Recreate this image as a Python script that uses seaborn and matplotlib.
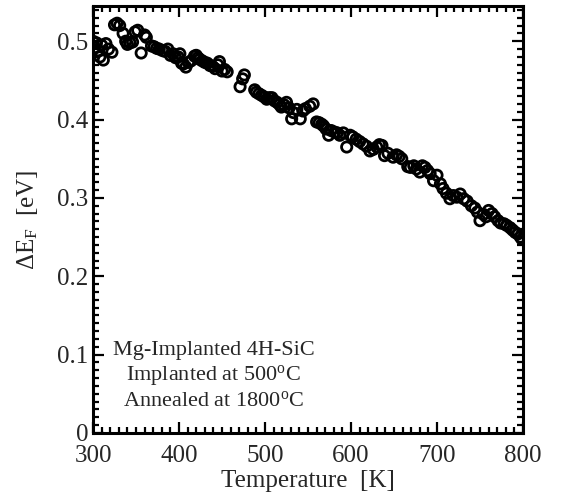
import numpy as np
import matplotlib
matplotlib.use("Agg")
import matplotlib.pyplot as plt
import seaborn as sns
import pandas as pd
from matplotlib.ticker import MultipleLocator

temperature = [300, 302, 304, 306, 308, 310, 312, 315, 318, 322,
               325, 328, 331, 335, 338, 340, 343, 346, 349, 352,
               356, 360, 362, 368, 371, 374, 377, 381, 384, 387,
               390, 393, 396, 399, 401, 403, 405, 408, 411, 414,
               418, 420, 422, 424, 427, 430, 433, 436, 439, 442,
               445, 447, 450, 453, 456, 471, 474, 476, 488, 490,
               493, 496, 499, 502, 505, 508, 511, 514, 517, 519,
               522, 525, 528, 531, 533, 537, 541, 544, 547, 552,
               556, 560, 563, 566, 568, 571, 574, 577, 581, 584,
               587, 591, 595, 599, 602, 606, 610, 614, 618, 622,
               626, 630, 633, 636, 639, 643, 649, 653, 656, 659,
               666, 669, 673, 676, 680, 683, 686, 689, 692, 696,
               700, 704, 707, 711, 715, 719, 723, 727, 731, 735,
               740, 744, 747, 750, 754, 757, 760, 764, 767, 771,
               774, 778, 781, 785, 788, 791, 794, 797, 799]
delta_ef = [0.500, 0.492, 0.498, 0.488, 0.480, 0.495, 0.476, 0.497, 0.490, 0.486,
            0.521, 0.523, 0.520, 0.510, 0.500, 0.496, 0.498, 0.499, 0.512, 0.514,
            0.485, 0.508, 0.505, 0.494, 0.493, 0.491, 0.490, 0.488, 0.487, 0.490,
            0.482, 0.484, 0.479, 0.480, 0.484, 0.472, 0.471, 0.467, 0.473, 0.475,
            0.481, 0.482, 0.479, 0.477, 0.475, 0.473, 0.472, 0.469, 0.468, 0.465,
            0.470, 0.474, 0.462, 0.464, 0.461, 0.442, 0.452, 0.457, 0.438, 0.435,
            0.433, 0.431, 0.429, 0.426, 0.428, 0.428, 0.424, 0.422, 0.419, 0.416,
            0.419, 0.422, 0.415, 0.401, 0.409, 0.413, 0.401, 0.411, 0.414, 0.417,
            0.420, 0.397, 0.396, 0.394, 0.392, 0.388, 0.380, 0.386, 0.384, 0.383,
            0.380, 0.383, 0.365, 0.380, 0.378, 0.375, 0.372, 0.369, 0.366, 0.360,
            0.362, 0.365, 0.368, 0.367, 0.354, 0.357, 0.352, 0.355, 0.353, 0.350,
            0.340, 0.339, 0.341, 0.337, 0.333, 0.341, 0.339, 0.335, 0.331, 0.322,
            0.329, 0.318, 0.312, 0.306, 0.299, 0.303, 0.301, 0.305, 0.299, 0.296,
            0.290, 0.287, 0.282, 0.271, 0.279, 0.276, 0.284, 0.280, 0.276, 0.271,
            0.268, 0.267, 0.265, 0.262, 0.259, 0.256, 0.254, 0.250, 0.247]
x_ticks = [300, 400, 500, 600, 700, 800]
y_ticks = [0, 0.1, 0.2, 0.3, 0.4, 0.5]
y_tick_labels = ["0", "0.1", "0.2", "0.3", "0.4", "0.5"]
annotation = ["Mg-Implanted 4H-SiC",
              r"Implanted at 500$^\mathrm{o}$C",
              r"Annealed at 1800$^\mathrm{o}$C"]

sns.set_style("ticks")
plt.rcParams["font.family"] = ["Liberation Serif", "DejaVu Serif"]
plt.rcParams["mathtext.fontset"] = "custom"
plt.rcParams["mathtext.rm"] = "Liberation Serif"
plt.rcParams["mathtext.it"] = "Liberation Serif:italic"

df = pd.DataFrame({"T": temperature, "dE": delta_ef})

fig = plt.figure(figsize=(5.62, 4.99), dpi=100)
ax = fig.add_axes([0.1655, 0.1323, 0.7651, 0.8557])
sns.scatterplot(data=df, x="T", y="dE", ax=ax, marker="o", s=55,
                facecolors="none", edgecolor="black", linewidth=2.0, legend=False)

ax.set_xlim(300, 800)
ax.set_ylim(0, 0.545)
ax.set_xticks(x_ticks)
ax.set_xticklabels([str(t) for t in x_ticks])
ax.set_yticks(y_ticks)
ax.set_yticklabels(y_tick_labels)
ax.xaxis.set_minor_locator(MultipleLocator(10))
ax.yaxis.set_minor_locator(MultipleLocator(0.01))
ax.tick_params(which="both", direction="in", top=True, right=True,
               labelsize=18, width=1.6, color="black")
ax.tick_params(which="major", length=8)
ax.tick_params(which="minor", length=4.5)
ax.tick_params(axis="x", pad=9)
for sp in ax.spines.values():
    sp.set_linewidth(2.2)
    sp.set_color("black")

ax.set_xlabel("Temperature  [K]", fontsize=18, labelpad=2)
ax.set_ylabel(r"ΔE$_\mathrm{F}$  [eV]", fontsize=18, labelpad=12)

for i, line in enumerate(annotation):
    ax.text(440, 0.105 - i * 0.032, line, ha="center", va="center", fontsize=16)

plt.savefig("out.png", dpi=100)
